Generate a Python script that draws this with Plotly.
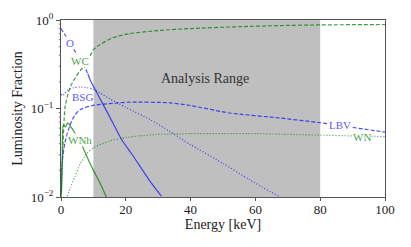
import math
import plotly.graph_objects as go

# ---------------- data ----------------
o_energy = [0, 1, 2.8, 5, 7.4, 8.3, 9, 12, 15, 18.8, 22, 27.5, 31]
o_frac = [0.80, 0.70, 0.56, 0.40, 0.29, 0.245, 0.21, 0.13, 0.081, 0.044, 0.030, 0.015, 0.0102]

wc_energy = [0.1, 0.5, 1.2, 2, 3, 4.3, 6, 7.4, 10, 11.4, 16, 21, 30, 40, 55, 67.6, 80, 100]
wc_frac = [0.011, 0.03, 0.10, 0.14, 0.18, 0.22, 0.27, 0.31, 0.46, 0.51, 0.63, 0.70, 0.76, 0.80, 0.84, 0.865, 0.88, 0.89]

bsg_energy = [0, 0.5, 1, 1.5, 2.5, 4, 6, 8, 10, 12, 15, 20, 27.5, 33.6, 40, 50, 58, 67.6]
bsg_frac = [0.145, 0.14, 0.145, 0.155, 0.165, 0.172, 0.175, 0.172, 0.165, 0.15, 0.129, 0.103, 0.075, 0.055, 0.039, 0.024, 0.0158, 0.01]

lbv_energy = [0.1, 0.3, 1.2, 2.8, 4.3, 5.9, 9.6, 16.7, 21, 33.6, 40, 52, 67.6, 80, 100]
lbv_frac = [0.012, 0.023, 0.041, 0.065, 0.085, 0.097, 0.108, 0.115, 0.118, 0.116, 0.108, 0.089, 0.078, 0.069, 0.054]

wnh_energy = [0.1, 0.4, 0.7, 1.4, 2.1, 2.8, 4, 5.5, 6.8, 8.5, 10, 12, 14]
wnh_frac = [0.01, 0.03, 0.065, 0.062, 0.069, 0.064, 0.055, 0.045, 0.036, 0.026, 0.020, 0.0145, 0.01]

wn_energy = [1.9, 3, 4.3, 6, 8, 10, 15, 20, 24, 30, 40, 50, 60, 70, 80, 90, 100]
wn_frac = [0.0102, 0.013, 0.017, 0.024, 0.031, 0.036, 0.043, 0.047, 0.049, 0.051, 0.052, 0.052, 0.052, 0.051, 0.050, 0.049, 0.048]

analysis_range = [10, 80]
x_ticks = [0, 20, 40, 60, 80, 100]
y_ticks = [0.01, 0.1, 1]
y_tick_text = ["10<sup>−2</sup>", "10<sup>−1</sup>", "10<sup>0</sup>"]

# ---------------- styling ----------------
BLUE = "rgba(20,20,255,0.75)"
GREEN = "rgba(0,128,0,0.75)"
AXIS = "#555555"
DASH = "4px,2px"
DOT = "1px,2px"
FONT = "Liberation Serif"
Y_MIN_EXP, Y_MAX_EXP = -2, 0

fig = go.Figure()

def add(x, y, color, dash):
    fig.add_trace(go.Scatter(x=x, y=y, mode="lines",
                             line=dict(color=color, width=1.2, dash=dash, shape="spline", smoothing=0.6),
                             showlegend=False, hoverinfo="skip"))

# O: dashed at low energy, solid above ~8 keV
split = 5
add(o_energy[:split + 1], o_frac[:split + 1], BLUE, DASH)
add(o_energy[split:], o_frac[split:], BLUE, "solid")
add(wc_energy, wc_frac, GREEN, DASH)
add(bsg_energy, bsg_frac, BLUE, DOT)
add(lbv_energy, lbv_frac, BLUE, DASH)
add(wnh_energy, wnh_frac, GREEN, "solid")
add(wn_energy, wn_frac, GREEN, DOT)

fig.add_shape(type="rect", xref="x", yref="paper", x0=analysis_range[0], x1=analysis_range[1],
              y0=0, y1=1, fillcolor="#bfbfbf", line=dict(width=0), layer="below")

# minor log ticks on the y axis
plot_w = 411 - 61 - 26
for e in range(Y_MIN_EXP, Y_MAX_EXP):
    for k in range(2, 10):
        frac = (math.log10(k * 10 ** e) - Y_MIN_EXP) / (Y_MAX_EXP - Y_MIN_EXP)
        fig.add_shape(type="line", xref="paper", yref="paper", x0=-2.2 / plot_w, x1=0,
                      y0=frac, y1=frac, line=dict(color=AXIS, width=0.8))

fig.add_annotation(x=44.5, y=-0.66, xref="x", yref="y", text="Analysis Range", showarrow=False,
                   font=dict(family=FONT, size=14, color="#333333"))

labels = [
    ("O", 2.8, 0.556, BLUE),
    ("WC", 5.9, 0.34, GREEN),
    ("BSG", 6.5, 0.136, BLUE),
    ("WNh", 5.9, 0.044, GREEN),
    ("LBV", 86, 0.065, BLUE),
    ("WN", 93, 0.048, GREEN),
]
for txt, x, y, c in labels:
    fig.add_annotation(x=x, y=math.log10(y), xref="x", yref="y", text=txt, showarrow=False,
                       font=dict(family=FONT, size=11, color=c), bgcolor="white", borderpad=0)

fig.update_layout(
    width=411, height=247,
    margin=dict(l=61, r=26, t=20, b=50),
    paper_bgcolor="white", plot_bgcolor="white",
    font=dict(family=FONT, size=12, color="#222222"),
)
fig.update_xaxes(range=[0, 100], tickvals=x_ticks, ticks="outside", ticklen=3, tickcolor=AXIS,
                 showline=True, linecolor=AXIS, linewidth=1, mirror=True, showgrid=False, zeroline=False,
                 automargin=False, ticklabelstandoff=-3,
                 title=dict(text="Energy [keV]", standoff=0, font=dict(family=FONT, size=14)),
                 tickfont=dict(family=FONT, size=13))
fig.update_yaxes(type="log", range=[Y_MIN_EXP, Y_MAX_EXP], tickvals=y_ticks, ticktext=y_tick_text,
                 ticks="outside", ticklen=4, tickcolor=AXIS,
                 showline=True, linecolor=AXIS, linewidth=1, mirror=True, showgrid=False, zeroline=False,
                 automargin=False,
                 title=dict(text="Luminosity Fraction", standoff=4, font=dict(family=FONT, size=14)),
                 tickfont=dict(family=FONT, size=13))

fig.write_html("out.html", config={"displayModeBar": False},
               post_script="document.body.style.margin='0';document.body.style.overflow='hidden';")
